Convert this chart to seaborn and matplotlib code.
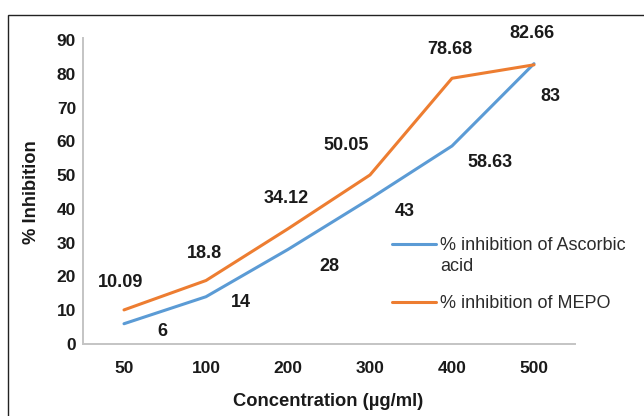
import matplotlib
matplotlib.use("Agg")
import matplotlib.pyplot as plt
import seaborn as sns
import pandas as pd
import numpy as np
from matplotlib.patches import Rectangle

concentrations = ["50", "100", "200", "300", "400", "500"]
ascorbic = [6, 14, 28, 43, 58.63, 83]
mepo = [10.09, 18.8, 34.12, 50.05, 78.68, 82.66]
ascorbic_labels = ["6", "14", "28", "43", "58.63", "83"]
mepo_labels = ["10.09", "18.8", "34.12", "50.05", "78.68", "82.66"]
series_names = ["% inhibition of Ascorbic\nacid", "% inhibition of MEPO"]
yticks = [0, 10, 20, 30, 40, 50, 60, 70, 80, 90]

# label offsets in pixels (style only)
asc_off = [(38, -8), (35, -6), (41, -17), (35, -13), (38, -17), (16, -33)]
mepo_off = [(-3, 27), (-2, 27), (-2, 30), (-24, 29), (-2, 29), (-2, 31)]

sns.set_theme(style="white")
plt.rcParams["font.family"] = ["Liberation Sans", "DejaVu Sans"]
TXT = "#1a1a1a"

df = pd.DataFrame({
    "Concentration": concentrations * 2,
    "Inhibition": ascorbic + mepo,
    "Series": [series_names[0]] * len(ascorbic) + [series_names[1]] * len(mepo),
})

fig = plt.figure(figsize=(6.44, 4.16), dpi=100)
ax = fig.add_axes([83 / 644, 1 - 344 / 416, 492 / 644, 306 / 416])

sns.lineplot(data=df, x="Concentration", y="Inhibition", hue="Series",
             palette=["#5B9BD5", "#ED7D31"], sort=False, linewidth=2.2,
             ax=ax, legend=False)

ax.set_xlim(-0.5, 5.5)
ax.set_ylim(0, 90.6)
ax.set_yticks(yticks)
ax.tick_params(axis="both", length=0, labelsize=12.5, colors=TXT)
ax.tick_params(axis="x", pad=12)
ax.tick_params(axis="y", pad=5)
for lab in ax.get_xticklabels() + ax.get_yticklabels():
    lab.set_fontweight("bold")

for s in ["top", "right"]:
    ax.spines[s].set_visible(False)
for s in ["left", "bottom"]:
    ax.spines[s].set_color("#c4c4c4")
    ax.spines[s].set_linewidth(1.4)

ax.set_xlabel("Concentration (µg/ml)", fontsize=13.2, fontweight="bold", color=TXT)
ax.set_ylabel("% Inhibition", fontsize=13.2, fontweight="bold", color=TXT)
ax.xaxis.label.set_va("center")
ax.yaxis.label.set_va("center")
ax.xaxis.set_label_coords(0.498, (344 - 401) / 306)
ax.yaxis.set_label_coords((31 - 83) / 492, (344 - 192) / 306)

for i, (v, t) in enumerate(zip(ascorbic, ascorbic_labels)):
    ax.annotate(t, (i, v), xytext=asc_off[i], textcoords="offset pixels",
                ha="center", va="center", fontsize=13, fontweight="bold", color=TXT)
for i, (v, t) in enumerate(zip(mepo, mepo_labels)):
    ax.annotate(t, (i, v), xytext=mepo_off[i], textcoords="offset pixels",
                ha="center", va="center", fontsize=13, fontweight="bold", color=TXT)

LEG_FS = 13
leg = ax.legend(handles=ax.lines[:2], labels=series_names, frameon=False,
                loc="upper left", bbox_to_anchor=(392 / 644, 1 - 237 / 416),
                bbox_transform=fig.transFigure, fontsize=LEG_FS,
                handlelength=2.45, handletextpad=0.22, borderpad=0,
                borderaxespad=0, labelspacing=1.13)
for t in leg.get_texts():
    t.set_color("#2b2b2b")
    t.set_linespacing(1.3)

# align each legend handle with the first line of its label
fig.canvas.draw()
fs_px = LEG_FS * fig.dpi / 72
for line, text in zip(leg.get_lines(), leg.get_texts()):
    bb = text.get_window_extent()
    target_y = bb.y1 - 0.38 * fs_px
    tr = line.get_transform()
    xd = np.asarray(line.get_xdata(), float)
    yd = np.asarray(line.get_ydata(), float)
    disp = tr.transform(np.column_stack([xd, yd]))
    disp[:, 1] = target_y
    new = tr.inverted().transform(disp)
    line.set_ydata(new[:, 1])

fig.patches.append(Rectangle((8 / 644, -0.1), 1.2, 1.1 - 15 / 416,
                             transform=fig.transFigure, fill=False,
                             edgecolor="#222222", linewidth=1.0))

fig.savefig("out.png", dpi=100)
